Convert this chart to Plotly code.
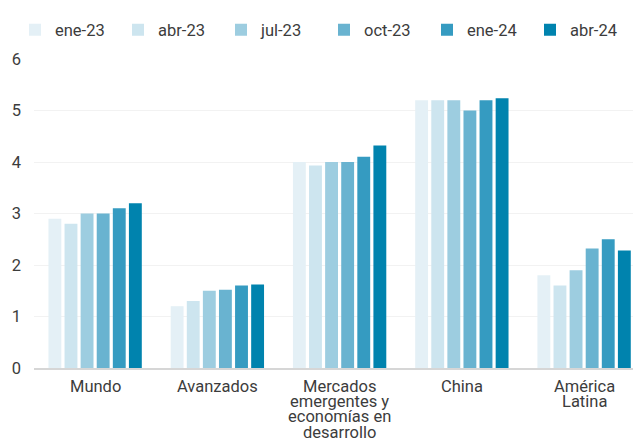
import plotly.graph_objects as go

categories = ["Mundo", "Avanzados", "Mercados emergentes y economías en desarrollo",
              "China", "América Latina"]
category_lines = [["Mundo"], ["Avanzados"],
                  ["Mercados", "emergentes y", "economías en", "desarrollo"],
                  ["China"], ["América", "Latina"]]
series_names = ["ene-23", "abr-23", "jul-23", "oct-23", "ene-24", "abr-24"]
ene23 = [2.9, 1.2, 4.0, 5.2, 1.8]
abr23 = [2.8, 1.3, 3.93, 5.2, 1.6]
jul23 = [3.0, 1.5, 4.0, 5.2, 1.9]
oct23 = [3.0, 1.52, 4.0, 5.0, 2.32]
ene24 = [3.1, 1.6, 4.1, 5.2, 2.5]
abr24 = [3.2, 1.62, 4.32, 5.24, 2.28]
colors = ["#e4f0f6", "#cde5ef", "#9dcde0", "#69b3d0", "#359bc1", "#0083ae"]
y_ticks = [0, 1, 2, 3, 4, 5, 6]

values = [ene23, abr23, jul23, oct23, ene24, abr24]
font = "Roboto"
text_color = "#3c3c3c"
fsize = 16.5

fig = go.Figure()
for name, vals, col in zip(series_names, values, colors):
    fig.add_trace(go.Bar(x=categories, y=vals, name=name, marker_color=col,
                         marker_line_width=0))

# category labels below the axis, one annotation per line so the
# multi-line labels can be set with a tight line height
line_height = 15.2
for cat, lines in zip(categories, category_lines):
    for i, line in enumerate(lines):
        fig.add_annotation(x=cat, xref="x", y=0, yref="y", text=line,
                           showarrow=False, xanchor="center", yanchor="top",
                           yshift=-(8 + i * line_height), borderpad=0,
                           font=dict(family=font, size=fsize, color=text_color))

fig.update_layout(
    width=633, height=442,
    margin=dict(l=34, r=0, t=59, b=74),
    paper_bgcolor="white", plot_bgcolor="white",
    barmode="group", bargap=0.21, bargroupgap=0.2,
    font=dict(family=font, size=fsize, color=text_color),
    showlegend=True,
    legend=dict(orientation="h", xref="paper", yref="paper",
                x=-0.019, y=1.0939, xanchor="left", yanchor="middle",
                entrywidth=58, entrywidthmode="pixels",
                font=dict(family=font, size=fsize, color=text_color),
                traceorder="normal", itemclick=False),
    xaxis=dict(range=[-0.5, 4.4], showgrid=False, showline=True,
               linecolor="#d6d6d6", linewidth=2, ticks="",
               showticklabels=False, automargin=False),
    yaxis=dict(range=[0, 6], tickvals=y_ticks, showgrid=True,
               gridcolor="#f2f2f2", gridwidth=1, zeroline=False,
               ticks="", ticklabelstandoff=12, automargin=False,
               tickfont=dict(family=font, size=fsize, color=text_color)),
)

fig.write_html("out.html")
